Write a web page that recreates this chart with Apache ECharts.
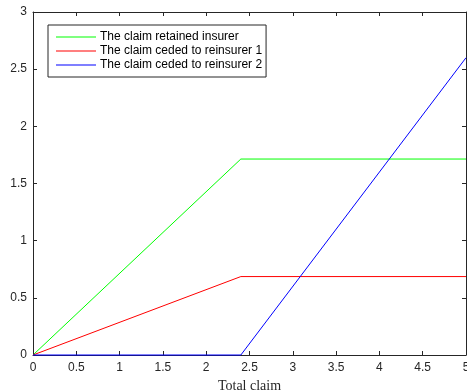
<!DOCTYPE html>
<html>
<head>
<meta charset="utf-8">
<script src="https://cdn.jsdelivr.net/npm/echarts@6/dist/echarts.min.js"></script>
<style>
  html, body { margin: 0; padding: 0; background: #fff; }
  #chart { width: 467px; height: 392px; }
</style>
</head>
<body>
<div id="chart"></div>
<script>
// Total claim breakpoints and the split of each claim between parties
const totalClaim = [0, 2.4, 5];
const retainedInsurer = [0, 1.714, 1.714];
const cededReinsurer1 = [0, 0.686, 0.686];
const cededReinsurer2 = [0, 0, 2.6];

const seriesNames = [
  'The claim retained insurer',
  'The claim ceded to reinsurer 1',
  'The claim ceded to reinsurer 2'
];
const seriesColors = ['#00ff00', '#ff0000', '#0000ff'];
const seriesValues = [retainedInsurer, cededReinsurer1, cededReinsurer2];

const axisColor = '#262626';
const tickFont = { color: axisColor, fontSize: 12, fontFamily: 'Liberation Sans, Arial, sans-serif' };

function pairs(xs, ys) {
  return xs.map((x, i) => [x, ys[i]]);
}

const chart = echarts.init(document.getElementById('chart'), null, { renderer: 'canvas' });

const baseAxis = {
  min: 0,
  interval: 0.5,
  axisLine: { show: true, onZero: false, lineStyle: { color: axisColor, width: 1 } },
  axisTick: { show: true, inside: true, length: 4, lineStyle: { color: axisColor } },
  splitLine: { show: false }
};

chart.setOption({
  animation: false,
  backgroundColor: '#fff',
  grid: { left: 33, right: 1, top: 12, bottom: 37, containLabel: false, outerBoundsMode: 'none' },
  legend: {
    orient: 'vertical',
    left: 48,
    top: 25,
    padding: [6, 4, 6, 8],
    itemGap: 2,
    itemWidth: 40,
    itemHeight: 1,
    borderColor: axisColor,
    borderWidth: 1,
    backgroundColor: '#fff',
    textStyle: { color: '#000', fontSize: 12, fontFamily: 'Liberation Sans, Arial, sans-serif', padding: [0, 0, 0, -1] },
    data: seriesNames.map((n) => ({ name: n, icon: 'rect' }))
  },
  xAxis: [
    Object.assign({}, baseAxis, {
      type: 'value', position: 'bottom', max: 5,
      axisLabel: Object.assign({ margin: 7 }, tickFont),
      name: 'Total claim',
      nameLocation: 'middle',
      nameGap: 23,
      nameTextStyle: { color: axisColor, fontSize: 14, fontFamily: 'Liberation Serif, DejaVu Serif, serif' }
    }),
    Object.assign({}, baseAxis, {
      type: 'value', position: 'top', max: 5,
      axisLabel: { show: false }
    })
  ],
  yAxis: [
    Object.assign({}, baseAxis, {
      type: 'value', position: 'left', max: 3,
      axisLabel: Object.assign({ margin: 6 }, tickFont)
    }),
    Object.assign({}, baseAxis, {
      type: 'value', position: 'right', max: 3,
      axisLabel: { show: false }
    })
  ],
  series: seriesNames.map((name, i) => ({
    name: name,
    type: 'line',
    xAxisIndex: 0,
    yAxisIndex: 0,
    data: pairs(totalClaim, seriesValues[i]),
    showSymbol: false,
    symbol: 'none',
    color: seriesColors[i],
    lineStyle: { color: seriesColors[i], width: 1 },
    clip: false
  }))
});
</script>
</body>
</html>
